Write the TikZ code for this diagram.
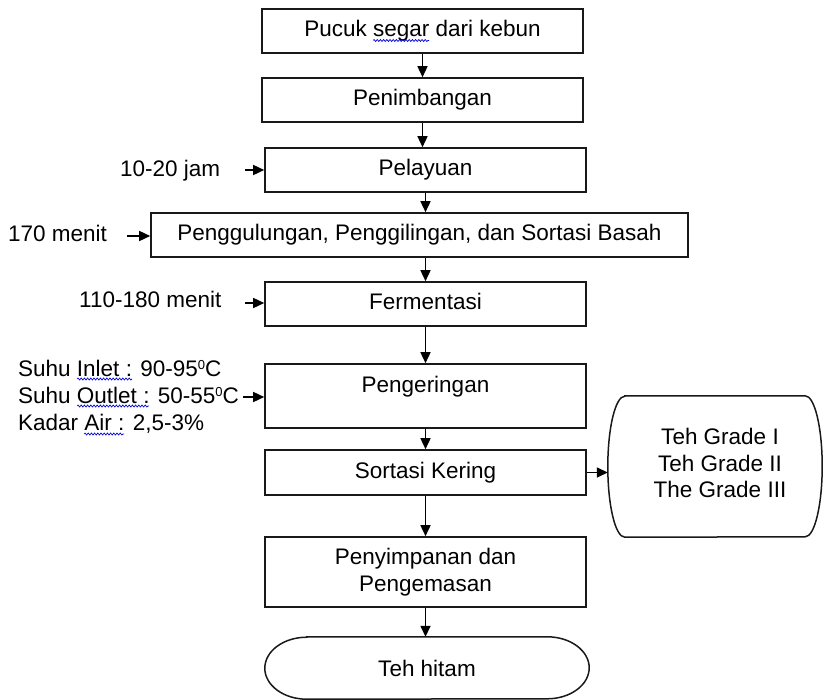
\documentclass[tikz,border=0pt]{standalone}
\usepackage{fontspec}
\setmainfont{Liberation Sans}
\usetikzlibrary{arrows.meta,calc,decorations.pathmorphing}
\newcommand\degsup{\raisebox{7pt}{\fontsize{13}{13}\selectfont 0}}
\begin{document}
\begin{tikzpicture}[x=1pt,y=-1pt,
  every node/.style={font=\fontsize{22.5}{26.8}\selectfont},
  box/.style={draw=black!90, line width=1.6pt, minimum width=321pt, minimum height=44pt, inner sep=0pt},
  one/.style={text height=16pt, text depth=5pt},
  lbl/.style={anchor=base west, inner sep=0pt},
  line/.style={draw=black!90, line width=1.5pt},
  squig/.style={draw=blue!85!black, line width=0.7pt, decorate, decoration={snake, amplitude=1pt, segment length=3.2pt}},
  arr/.style={line width=1.5pt, -{Triangle[length=11pt,width=10pt]}}]
\useasboundingbox (0,0) rectangle (826,700);

\node[box, one] (b1) at (422.5,31) {Pucuk segar dari kebun};
\node[box, one] (b2) at (422.5,100) {Penimbangan};
\node[box, one] (b3) at (425.5,170) {Pelayuan};
\node[box, one, minimum width=537pt] (b4) at (419.5,235) {Penggulungan, Penggilingan, dan Sortasi Basah};
\node[box, one] (b5) at (425.5,304) {Fermentasi};
\node[box, minimum height=64pt, text height=16pt, text depth=24pt] (b6) at (425.5,396) {Pengeringan};
\node[box, one, minimum height=45pt] (b7) at (425.5,472.5) {Sortasi Kering};
\node[box, minimum height=70pt, align=center] (b8) at (425.5,572) {Penyimpanan dan\\Pengemasan};

\node[minimum width=324pt, minimum height=62pt, inner sep=0pt] (ht) at (427,668) {Teh hitam};
\draw[line] ($(ht.north west)+(42,0)$) -- ($(ht.north east)+(-42,0)$)
  arc[start angle=90, end angle=-90, x radius=42pt, y radius=31pt]
  -- ($(ht.south west)+(42,0)$)
  arc[start angle=270, end angle=90, x radius=42pt, y radius=31pt] -- cycle;

\node[minimum width=214pt, minimum height=141pt, inner sep=0pt] (gr) at (715,466.5) {};
\draw[line] ($(gr.north west)+(17,0)$) -- ($(gr.north east)+(-17,0)$)
  arc[start angle=90, end angle=-90, x radius=17pt, y radius=70.5pt]
  -- ($(gr.south west)+(17,0)$)
  arc[start angle=270, end angle=90, x radius=17pt, y radius=70.5pt] -- cycle;
\node[align=center, inner sep=0pt] (gt) at (720,463) {Teh Grade I\\Teh Grade II\\The Grade III};

\draw[arr] (b1.south) -- (b2.north);
\draw[arr] (b2.south) -- (b2.south |- b3.north);
\draw[arr] (b3.south) -- (b3.south |- b4.north);
\draw[arr] (b5.north |- b4.south) -- (b5.north);
\draw[arr] (b5.south) -- (b6.north);
\draw[arr] (b6.south) -- (b7.north);
\draw[arr] (b7.south) -- (b8.north);
\draw[arr] (b8.south) -- (b8.south |- ht.north);
\draw[arr] (b7.east) -- (b7.east -| gr.west);

\node[lbl] (l3) at (120,177) {10-20 jam};
\coordinate (a3) at (245,170);
\draw[arr] (a3) -- (a3 -| b3.west);
\node[lbl] (l4) at (8,242) {170 menit};
\coordinate (a4) at (127,236);
\draw[arr] (a4) -- (a4 -| b4.west);
\node[lbl] (l5) at (79,307) {110-180 menit};
\coordinate (a5) at (245,303);
\draw[arr] (a5) -- (a5 -| b5.west);
\node[lbl, align=left] (l6) at (18,430) {Suhu Inlet : 90-95\degsup C\\Suhu Outlet : 50-55\degsup C\\Kadar Air : 2,5-3\%};
\coordinate (a6) at (243,397);
\draw[arr] (a6) -- (a6 -| b6.west);

\coordinate (q1a) at (373,40.5); \coordinate (q1b) at (429,40.5);
\coordinate (q2a) at (77,379); \coordinate (q2b) at (132,379);
\coordinate (q3a) at (77,406); \coordinate (q3b) at (149,406);
\coordinate (q4a) at (84,434); \coordinate (q4b) at (124,434);
\draw[squig] (q1a) -- (q1b);
\draw[squig] (q2a) -- (q2b);
\draw[squig] (q3a) -- (q3b);
\draw[squig] (q4a) -- (q4b);
\end{tikzpicture}
\end{document}
